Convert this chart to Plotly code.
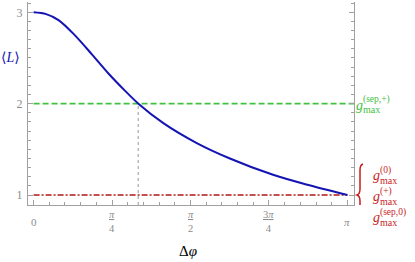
import numpy as np
import plotly.graph_objects as go

PI = np.pi
# ---- data ----
dphi_over_pi = [0.0, 0.04, 0.0795, 0.1326, 0.1857, 0.2385, 0.2917, 0.334, 0.4135, 0.52, 0.6256, 0.763, 0.869, 1.0]
L_mean = [3.0, 2.98, 2.915, 2.745, 2.54, 2.33, 2.14, 2.0, 1.787, 1.569, 1.40, 1.221, 1.115, 1.0]
g_sep_plus = 2.0
g_low = 1.0
crossing_over_pi = 1.0 / 3.0
xtick_over_pi = [0, 0.25, 0.5, 0.75, 1.0]
xtick_text = ["0", "<u><i>π</i></u><br>4", "<u><i>π</i></u><br>2", "<u>3<i>π</i></u><br>4", "<i>π</i>"]
ytick_vals = [1, 2, 3]
green_sup = "(sep,+)"
red_sups = ["(0)", "(+)", "(sep,0)"]

x = [v * PI for v in dphi_over_pi]
xr = [-0.0178 * PI, 1.021 * PI]
yr = [0.8905, 3.113]

BLUE = "#1414b4"
GREEN = "#3fc23f"
RED = "#c81e1e"
DRED = "#b01818"
GREY = "#8c8c8c"
AX = "#a0a0a0"
SERIF = "Liberation Serif, DejaVu Serif, serif"

fig = go.Figure()
fig.add_trace(go.Scatter(x=[crossing_over_pi * PI, crossing_over_pi * PI], y=[yr[0], g_sep_plus],
                         mode="lines", line=dict(color="#999999", width=1, dash="dot"), hoverinfo="skip"))
fig.add_trace(go.Scatter(x=[0, xr[1]], y=[g_sep_plus, g_sep_plus], mode="lines",
                         line=dict(color=GREEN, width=1.6, dash="6px,3px"), hoverinfo="skip"))
fig.add_trace(go.Scatter(x=[0, PI], y=[g_low, g_low], mode="lines",
                         line=dict(color=DRED, width=1.5, dash="6px,2px,2px,2px"), hoverinfo="skip"))
fig.add_trace(go.Scatter(x=x, y=L_mean, mode="lines",
                         line=dict(color=BLUE, width=2, shape="spline", smoothing=0.9),
                         hoverinfo="skip"))

ann = []
# x tick labels
for v, t in zip(xtick_over_pi, xtick_text):
    single = "<br>" not in t
    ann.append(dict(x=v * PI, xref="x", y=0, yref="paper", text=t, showarrow=False,
                    xanchor="center", yanchor="middle", yshift=-17 if single else -16.5,
                    font=dict(family=SERIF, size=11 if single else 10.5, color=GREY)))
# axis titles
ann.append(dict(x=0.5 * PI, xref="x", y=0, yref="paper", text="Δ<i>φ</i>", showarrow=False,
                xanchor="center", yanchor="middle", xshift=-3, yshift=-46,
                font=dict(family=SERIF, size=15, color="black")))
ann.append(dict(x=0, xref="paper", y=2.5, yref="y", text="⟨<i>L</i>⟩", showarrow=False,
                xanchor="right", yanchor="middle", xshift=-6,
                font=dict(family=SERIF, size=14, color=BLUE)))


def g_label(yval, ybase_shift, xbase, sup, color):
    out = []
    out.append(dict(x=1, xref="paper", y=yval, yref="y", text="<i>g</i>", showarrow=False,
                    xanchor="left", yanchor="middle", xshift=xbase, yshift=ybase_shift,
                    font=dict(family=SERIF, size=14, color=color)))
    out.append(dict(x=1, xref="paper", y=yval, yref="y", text="max", showarrow=False,
                    xanchor="left", yanchor="middle", xshift=xbase + 6.5, yshift=ybase_shift - 4.5,
                    font=dict(family=SERIF, size=10, color=color)))
    out.append(dict(x=1, xref="paper", y=yval, yref="y", text=sup, showarrow=False,
                    xanchor="left", yanchor="middle", xshift=xbase + 7, yshift=ybase_shift + 5.5,
                    font=dict(family=SERIF, size=9.5, color=color)))
    return out

ann += g_label(g_sep_plus, -1.7, 0, green_sup, GREEN)
for i, s in enumerate(red_sups):
    ann += g_label(g_low, 19.5 - 21 * i, 17, s, RED)

brace = ("M 9,31 Q 6,30 6,25 L 6,6 Q 6,1 3,0 Q 6,-1 6,-6 L 6,-25 Q 6,-30 9,-31")
shapes = [dict(type="path", xref="paper", yref="y", xsizemode="pixel", ysizemode="pixel",
               xanchor=1, yanchor=g_low, path=brace, line=dict(color=RED, width=1.5))]

fig.update_layout(
    width=415, height=262, margin=dict(l=27.7, r=60.7, t=2, b=57),
    paper_bgcolor="white", plot_bgcolor="white", showlegend=False,
    annotations=ann, shapes=shapes,
    xaxis=dict(range=xr, showgrid=False, zeroline=False, showline=True, linecolor=AX, linewidth=1.2,
               ticks="inside", ticklen=5, tickcolor=AX, tickmode="array",
               tickvals=[v * PI for v in xtick_over_pi], showticklabels=False,
               minor=dict(ticks="inside", ticklen=3, tickcolor=AX, tick0=0, dtick=PI / 20, showgrid=False)),
    yaxis=dict(range=yr, showgrid=False, zeroline=False, showline=True, linecolor=AX, linewidth=1.2,
               mirror="ticks", ticks="inside", ticklen=5, tickcolor=AX, tickmode="array",
               tickvals=ytick_vals, ticktext=[str(v) for v in ytick_vals], ticklabelstandoff=2,
               tickfont=dict(family=SERIF, size=12, color=GREY),
               minor=dict(ticks="inside", ticklen=3, tickcolor=AX, tick0=0, dtick=0.1, showgrid=False)),
)

fig.write_html("out.html", config={"displayModeBar": False},
               post_script="document.body.style.margin='0';")
